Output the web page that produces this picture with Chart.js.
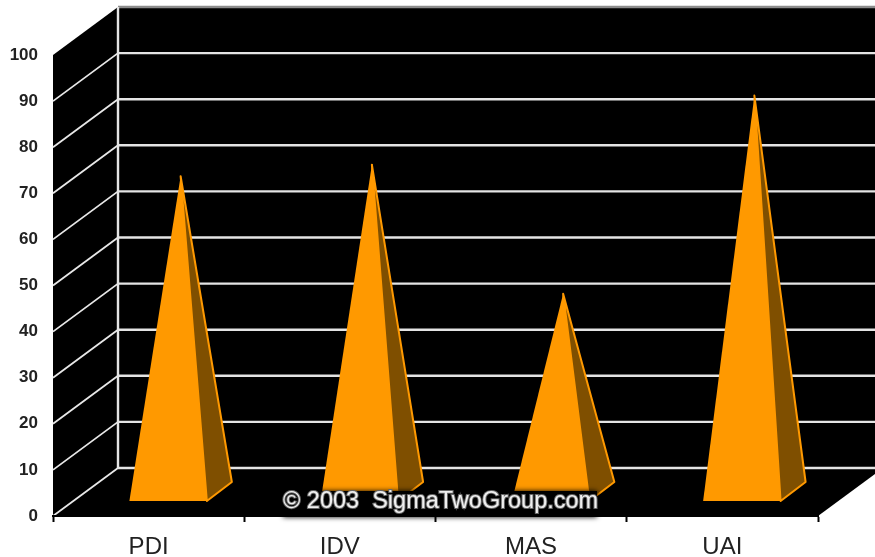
<!DOCTYPE html>
<html lang="en">
<head>
    <meta charset="UTF-8">
    <title>Dimension Scores</title>
    <style>
        body { margin: 0; background-color: #fff; }
        canvas { display: block; filter: blur(0.5px); }
    </style>
</head>
<body>
    <canvas id="chart" width="875" height="557"></canvas>

    <script src="https://cdn.jsdelivr.net/npm/chart.js"></script>
    <script>
        // Values
        const categories = ['PDI', 'IDV', 'MAS', 'UAI'];
        const scores = [68.5, 71, 43, 86];
        const yTicks = [0, 10, 20, 30, 40, 50, 60, 70, 80, 90, 100];
        const watermark = '© 2003  SigmaTwoGroup.com';

        // How far the back wall sits from the front plane
        const wallDx = 65;
        const wallDy = -48;

        // Draws the black box behind the marks, grid lines come from the y scale
        const boxPlugin = {
            id: 'box',
            beforeDraw(chart) {
                const ctx = chart.ctx;
                const area = chart.chartArea;
                const y = chart.scales.y;
                ctx.save();
                ctx.fillStyle = '#000';
                ctx.beginPath();
                ctx.moveTo(area.left, area.top);
                ctx.lineTo(area.left + wallDx, area.top + wallDy);
                ctx.lineTo(area.right + wallDx, area.top + wallDy);
                ctx.lineTo(area.right + wallDx, area.bottom + wallDy);
                ctx.lineTo(area.right, area.bottom);
                ctx.lineTo(area.left, area.bottom);
                ctx.closePath();
                ctx.fill();

                yTicks.forEach(function(v) {
                    const py = y.getPixelForValue(v);
                    if (v !== 100) {
                        ctx.strokeStyle = '#e8e8e8';
                        ctx.lineWidth = 1.8;
                        ctx.beginPath();
                        ctx.moveTo(area.left, py);
                        ctx.lineTo(area.left + wallDx, py + wallDy);
                        ctx.stroke();
                    }
                    ctx.lineWidth = 2.4;
                    ctx.strokeStyle = v === 100 ? '#8c8c8c' : '#e4e4e4';
                    ctx.beginPath();
                    ctx.moveTo(area.left + wallDx, py + wallDy);
                    ctx.lineTo(area.right + wallDx, py + wallDy);
                    ctx.stroke();
                });

                ctx.lineWidth = 2.4;
                ctx.strokeStyle = '#e4e4e4';
                ctx.beginPath();
                ctx.moveTo(area.left + wallDx, area.top + wallDy);
                ctx.lineTo(area.left + wallDx, area.bottom + wallDy);
                ctx.stroke();
                ctx.restore();
            },
            // Pyramids use the geometry of the bars Chart.js laid out
            afterDatasetsDraw(chart) {
                const ctx = chart.ctx;
                const bars = chart.getDatasetMeta(0).data;
                ctx.save();
                ctx.lineJoin = 'round';
                bars.forEach(function(bar) {
                    const left = bar.x - bar.width / 2 + 19.5;
                    const right = left + bar.width;
                    const frontY = bar.base - 15;
                    const apexX = bar.x + 32;
                    const apexY = bar.y - 24;

                    ctx.fillStyle = '#7f4f00';
                    ctx.strokeStyle = '#ff9900';
                    ctx.lineWidth = 2;
                    ctx.beginPath();
                    ctx.moveTo(right, frontY);
                    ctx.lineTo(right + 25, frontY - 19);
                    ctx.lineTo(apexX, apexY);
                    ctx.closePath();
                    ctx.fill();
                    ctx.stroke();

                    ctx.fillStyle = '#ff9900';
                    ctx.beginPath();
                    ctx.moveTo(left, frontY);
                    ctx.lineTo(right, frontY);
                    ctx.lineTo(apexX, apexY);
                    ctx.closePath();
                    ctx.fill();
                });
                ctx.restore();
            },
            afterDraw(chart) {
                const ctx = chart.ctx;
                ctx.save();
                // dark smudge the watermark sits on
                ctx.shadowColor = '#000';
                ctx.shadowBlur = 5;
                ctx.fillStyle = '#000';
                ctx.fillRect(283, 491, 314, 26);
                ctx.shadowBlur = 0;

                ctx.font = '23.5px "Liberation Sans", sans-serif';
                ctx.textBaseline = 'middle';
                ctx.lineWidth = 2;
                ctx.strokeStyle = '#666';
                ctx.strokeText(watermark, 283, 502);
                ctx.fillStyle = '#efefef';
                ctx.fillText(watermark, 283, 502);
                ctx.restore();
            }
        };

        new Chart(document.getElementById('chart'), {
            type: 'bar',
            data: {
                labels: categories,
                datasets: [{
                    data: scores,
                    backgroundColor: 'rgba(0, 0, 0, 0)',
                    categoryPercentage: 1,
                    barPercentage: 0.405
                }]
            },
            options: {
                responsive: false,
                animation: false,
                layout: { padding: { top: 55, right: 57, left: 0, bottom: 0 } },
                plugins: { legend: { display: false }, tooltip: { enabled: false } },
                scales: {
                    x: {
                        afterFit(scale) { scale.height = 41; },
                        border: { color: '#000', width: 2 },
                        grid: { drawOnChartArea: false, offset: true, color: '#000', tickLength: 6, tickWidth: 2 },
                        ticks: {
                            color: '#222',
                            padding: 11,
                            maxRotation: 0,
                            font: { family: '"Liberation Sans", Arial, sans-serif', size: 24 }
                        }
                    },
                    y: {
                        min: 0,
                        max: 100,
                        afterFit(scale) { scale.width = 53; },
                        afterBuildTicks(scale) { scale.ticks = yTicks.map(function(v) { return { value: v }; }); },
                        border: { display: false },
                        grid: { display: false },
                        ticks: {
                            color: '#222',
                            padding: 7,
                            font: { family: '"Liberation Sans", sans-serif', size: 17, weight: 'bold' }
                        }
                    }
                }
            },
            plugins: [boxPlugin]
        });
    </script>
</body>
</html>
